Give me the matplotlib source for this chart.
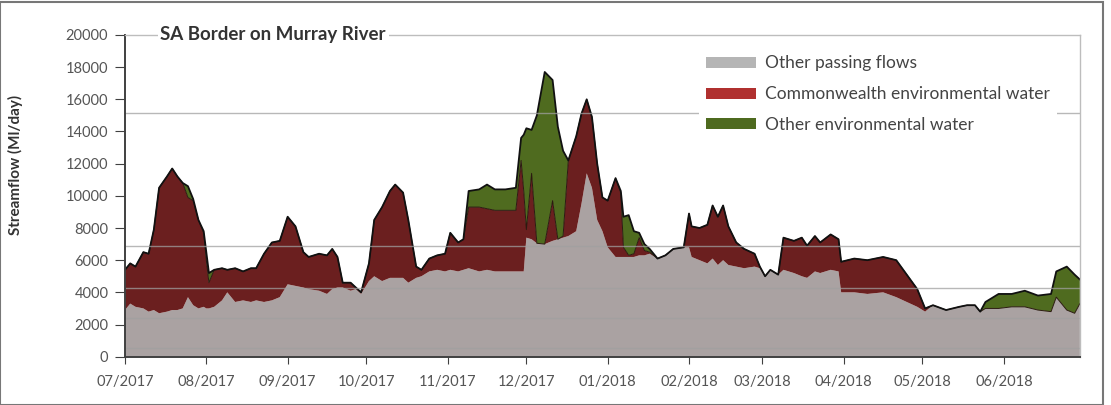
import numpy as np
import matplotlib
matplotlib.use("Agg")
import matplotlib.pyplot as plt
import matplotlib.dates as mdates
from matplotlib.patches import Patch, Rectangle

plt.rcParams['font.family'] = ['Lato', 'DejaVu Sans']

# days since 01/07/2017 (Ml/day)
days = [0, 2, 4, 7, 9, 11, 13, 16, 18, 20, 22, 24, 26, 28, 30, 31, 32, 34, 37, 39,
        42, 45, 48, 50, 53, 56, 59, 62, 65, 68, 70, 74, 77, 79, 81, 83, 86, 88, 90, 93,
        95, 98, 101, 103, 106, 108, 111, 113, 116, 119, 122, 124, 127, 129, 131, 135, 138, 141, 145, 149,
        151, 152, 153, 155, 157, 160, 163, 165, 167, 169, 172, 174, 176, 178, 180, 182, 184, 187, 189, 190,
        192, 194, 196, 198, 200, 203, 206, 209, 213, 215, 216, 219, 222, 224, 226, 228, 230, 233, 236, 240,
        242, 244, 246, 249, 251, 255, 258, 260, 263, 265, 269, 272, 273, 278, 283, 289, 294, 298, 302, 305,
        308, 313, 318, 321, 324, 326, 328, 333, 338, 343, 348, 353, 355, 359, 362, 364]

other_flows = [2900, 3300, 3100, 3000, 2800, 2900, 2700, 2800, 2900, 2900, 3000, 3700, 3200, 3000, 3100, 3000, 3000, 3100, 3500, 4000,
               3400, 3500, 3400, 3500, 3400, 3500, 3700, 4500, 4400, 4300, 4200, 4100, 3900, 4200, 4300, 4300, 4100, 4200, 3900, 4700,
               5000, 4700, 4900, 4900, 4900, 4600, 4900, 5000, 5300, 5400, 5300, 5400, 5300, 5400, 5500, 5300, 5400, 5300, 5300, 5300,
               5300, 5300, 7400, 7300, 7050, 7000, 7200, 7300, 7400, 7500, 7800, 9500, 11400, 10500, 8500, 7800, 6800, 6200, 6200, 6200,
               6200, 6200, 6300, 6300, 6400, 6100, 6300, 6700, 6800, 6800, 6200, 6000, 5800, 6100, 5700, 6000, 5700, 5600, 5500, 5600,
               5500, 5000, 5400, 5100, 5400, 5200, 5000, 4900, 5300, 5200, 5400, 5300, 4000, 4000, 3900, 4000, 3700, 3400, 3100, 2800,
               3200, 2900, 3100, 3200, 3200, 2800, 3000, 3000, 3100, 3100, 2900, 2800, 3700, 2900, 2700, 3300]

cew = [2500, 2500, 2500, 3500, 3600, 5000, 7800, 8400, 8800, 8300, 7800, 6200, 6500, 5500, 4600, 3000, 1600, 2300, 2000, 1400,
       2100, 1800, 2100, 2000, 3000, 3600, 3500, 4200, 3700, 2200, 2000, 2300, 2400, 2500, 1900, 300, 500, 100, 100, 1100,
       3500, 4600, 5400, 5800, 5300, 3900, 700, 400, 800, 900, 1100, 2300, 1800, 1900, 3800, 4000, 3800, 3800, 3800, 3800,
       6900, 5000, 500, 4100, 0, 0, 2500, 0, 100, 4700, 5900, 5600, 4600, 4400, 3500, 2100, 2900, 4900, 4000, 600,
       100, 200, 1100, 300, 100, 0, 0, 0, 0, 2100, 1900, 2000, 2400, 3300, 3000, 3400, 2400, 1500, 1200, 800,
       100, 0, 0, 0, 2000, 2000, 2400, 2000, 2200, 1900, 2200, 2000, 1900, 2100, 2100, 2200, 2300, 1700, 1100, 200,
       0, 0, 0, 0, 0, 0, 0, 0, 0, 0, 0, 0, 0, 0, 0, 0]

other_env = [0, 0, 0, 0, 0, 0, 0, 0, 0, 0, 0, 700, 100, 0, 100, 500, 600, 0, 0, 0,
             0, 0, 0, 0, 0, 0, 0, 0, 0, 0, 0, 0, 0, 0, 0, 0, 0, 0, 0, 0,
             0, 0, 0, 0, 0, 0, 0, 0, 0, 0, 0, 0, 0, 0, 1000, 1100, 1500, 1300, 1300, 1400,
             1400, 3500, 6300, 2700, 7950, 10700, 7500, 7000, 5300, 0, 0, 0, 0, 0, 0, 0, 0, 0, 100, 1900,
             2500, 1400, 300, 400, 200, 0, 0, 0, 0, 0, 0, 0, 0, 0, 0, 0, 0, 0, 0, 0,
             0, 0, 0, 0, 0, 0, 0, 0, 0, 0, 0, 0, 0, 0, 0, 0, 0, 0, 0, 0,
             0, 0, 0, 0, 0, 0, 400, 900, 800, 1000, 900, 1100, 1600, 2700, 2400, 1500]

# odd grey rules across the scanned chart
stray_lines = [15150, 6870, 4260, 2400, 540]

start = np.datetime64('2017-07-01')
dates = start + np.array(days).astype('timedelta64[D]')

fig = plt.figure(figsize=(11.11, 4.05), dpi=100)
ax = fig.add_axes([0.1125, 0.1193, 0.972 - 0.1125, 0.9136 - 0.1193])

grey_c = '#aaa2a2'
red_c = '#6b1f1f'
green_c = '#4f6b1f'
ax.stackplot(dates, other_flows, cew, other_env, colors=[grey_c, red_c, green_c], lw=0)

base = np.array(other_flows)
red_top = base + np.array(cew)
total = red_top + np.array(other_env)
ax.plot(dates, red_top, color='#2b1a10', lw=0.7)
ax.plot(dates, total, color='#111111', lw=1.3)

for v in stray_lines:
    ax.axhline(v, color='#a0a0a0', lw=1.0, alpha=0.75, zorder=2.5)

ax.set_xlim(start, np.datetime64('2018-06-30'))
ax.set_ylim(0, 20000)
ax.set_yticks(range(0, 20001, 2000))
ax.xaxis.set_major_locator(mdates.MonthLocator())
ax.xaxis.set_major_formatter(mdates.DateFormatter('%m/%Y'))
ax.tick_params(axis='y', direction='out', length=7, color='#404040', labelsize=10.5,
               labelcolor='#555555', pad=5)
ax.tick_params(axis='x', direction='out', length=5, color='#404040', labelsize=10.5,
               labelcolor='#555555', pad=8)
for s in ['left', 'bottom']:
    ax.spines[s].set_color('#404040')
    ax.spines[s].set_linewidth(1.4)
for s in ['top', 'right']:
    ax.spines[s].set_color('#bdbdbd')
    ax.spines[s].set_linewidth(1.0)

ax.set_ylabel('Streamflow (Ml/day)', fontsize=11, fontweight='bold', color='#333333')
ax.yaxis.set_label_coords(-0.107, 0.596)
ax.text(0.037, 1.0, 'SA Border on Murray River', transform=ax.transAxes, fontsize=13.5,
        fontweight='bold', color='#333333', va='center', ha='left',
        bbox=dict(facecolor='white', edgecolor='none', pad=2))

handles = [Patch(facecolor='#b5b5b5', label='Other passing flows'),
           Patch(facecolor='#b0302f', label='Commonwealth environmental water'),
           Patch(facecolor='#4e6a1f', label='Other environmental water')]
leg = ax.legend(handles=handles, loc='upper right', bbox_to_anchor=(0.985, 0.985), frameon=True,
                fontsize=12.5, handlelength=2.9, handleheight=0.6, labelspacing=0.85,
                handletextpad=0.5, borderpad=0.4, fancybox=False)
leg.get_frame().set_edgecolor('none')
leg.get_frame().set_facecolor('white')
leg.get_frame().set_alpha(1)
for t in leg.get_texts():
    t.set_color('#444444')

fig.patches.append(Rectangle((0.0, 0.0), 1103 / 1111, 1 - 1.5 / 405, transform=fig.transFigure,
                             fill=False, edgecolor='#777777', lw=1.5))

fig.savefig('out.png', dpi=100)
